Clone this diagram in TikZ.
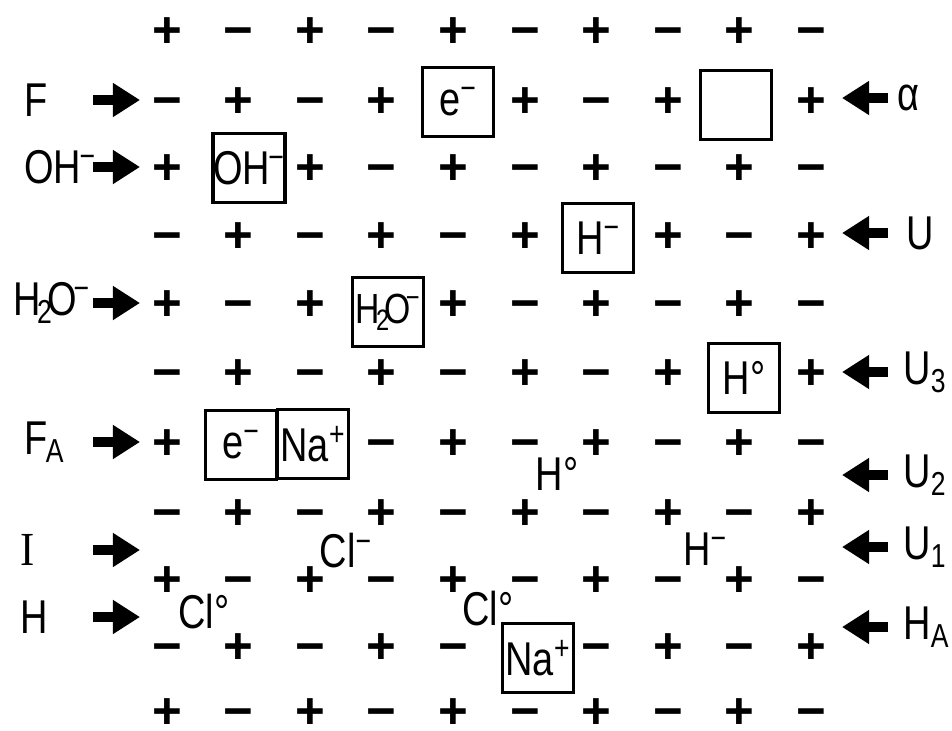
\documentclass[tikz,border=0pt]{standalone}
\usepackage{fontspec}
\setmainfont{Liberation Sans}[FakeStretch=0.8]
\newfontfamily\chgfont{Liberation Sans}
\newfontfamily\serifI{Liberation Serif}[FakeStretch=0.9]
\usetikzlibrary{arrows.meta}

\begin{document}
\begin{tikzpicture}[x=0.02cm, y=-0.02cm,
  lbl/.style={font=\fontsize{27}{30}\selectfont, inner sep=0pt},
  chg/.style={font=\fontsize{29}{32}\selectfont\chgfont\bfseries, inner sep=0pt, text height=19.7pt, text depth=0pt},
  site/.style={draw, line width=2pt, minimum width=1.42cm, minimum height=1.38cm, inner sep=0pt, font=\fontsize{27}{30}\selectfont},
  blk/.style={line width=5.7pt, -{Triangle[length=15.5pt,width=18.5pt]}}]
  \useasboundingbox (0,0) rectangle (952,730);
  % grid sites taken by the boxes
  \foreach \p in {1-4,1-8,2-1,3-6,4-3,5-8,6-1,6-2,9-5} {\expandafter\gdef\csname sk\p\endcsname{}}
  \foreach \y [count=\r from 0] in {30,100,167,235,303,372,442,512,579,646,711} {
    \foreach \c [evaluate=\c as \x using {167+71.6*\c}] in {0,...,9} {
      \ifcsname sk\r-\c\endcsname\else
        \ifodd\numexpr\r+\c\relax
          \node[chg] (q\r-\c) at (\x,\y) {−};
        \else
          \node[chg] (q\r-\c) at (\x,\y) {+};
        \fi
      \fi
    }
  }
  % boxed species
  \node[site] (e1) at (458,102) {e\textsuperscript{−}};
  \node[site] (hole) at (736,105) {};
  \node[site] (oh) at (249,168) {OH\kern-1pt\textsuperscript{−}};
  \node[site] (hm) at (598,238) {H\textsuperscript{−}};
  \node[site,font=\fontsize{24}{30}\selectfont] (h2o) at (388,312) {H\kern-2pt\textsubscript{2}\kern-3pt O\kern-3pt\textsuperscript{−}};
  \node[site] (h0) at (744,378) {H°};
  \node[site] (e2) at (241,445) {e\textsuperscript{−}};
  \node[site] (na1) at (313,444) {Na\textsuperscript{+}};
  \node[site] (na2) at (538,658) {Na\textsuperscript{+}};
  % free species
  \node[lbl] (clm) at (346,551) {Cl\textsuperscript{−}};
  \node[lbl] (hm2) at (705,549) {H\textsuperscript{−}};
  \node[lbl] (cl1) at (204,612) {Cl°};
  \node[lbl] (cl2) at (488,609) {Cl°};
  \node[lbl] (h02) at (557,474) {H°};
  % left centres
  \node[lbl,anchor=west] (F) at (24,100) {F};
  \node[lbl,anchor=west] (OH) at (24,167) {OH\kern-1pt\textsuperscript{−}};
  \node[lbl,anchor=west] (H2O) at (13,303) {H\kern-2pt\textsubscript{2}\kern-3pt O\kern-2pt\textsuperscript{−}};
  \node[lbl,anchor=west] (FA) at (24,442) {F\kern-1pt\textsubscript{A}};
  \node[lbl,anchor=west] (I) at (20,550) {\serifI I};
  \node[lbl,anchor=west] (H) at (20,617) {H};
  \foreach \y [count=\i] in {100,167,303,442,550,617} {
    \coordinate (lt\i) at (93,\y);
    \coordinate (lh\i) at (140,\y);
    \draw[blk] (lt\i) -- (lh\i);
  }
  % right centres
  \node[lbl,anchor=west] (al) at (897,98) {α};
  \node[lbl,anchor=west] (U) at (906,233) {U};
  \node[lbl,anchor=west] (U3) at (903,372) {U\textsubscript{3}};
  \node[lbl,anchor=west] (U2) at (903,475) {U\textsubscript{2}};
  \node[lbl,anchor=west] (U1) at (903,547) {U\textsubscript{1}};
  \node[lbl,anchor=west] (HA) at (903,627) {H\textsubscript{A}};
  \foreach \y [count=\i] in {98,233,372,475,547,627} {
    \coordinate (rt\i) at (888,\y);
    \coordinate (rh\i) at (842,\y);
    \draw[blk] (rt\i) -- (rh\i);
  }
\end{tikzpicture}
\end{document}
